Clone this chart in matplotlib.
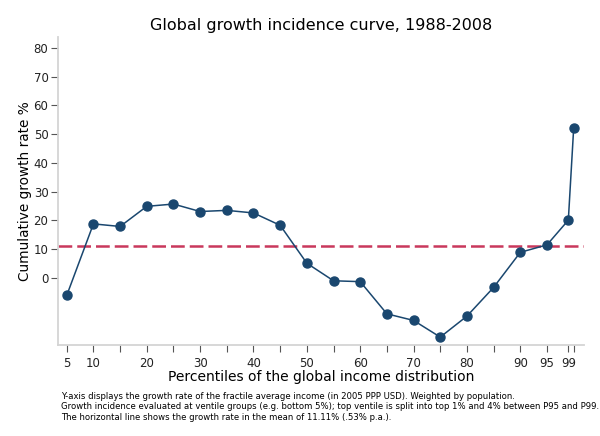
import matplotlib
matplotlib.use("Agg")
import matplotlib.pyplot as plt

# percentile groups (upper bound of each fractile) and cumulative growth, %
percentiles = [5, 10, 15, 20, 25, 30, 35, 40, 45, 50, 55, 60, 65, 70, 75,
               80, 85, 90, 95, 99, 100]
growth = [-6.1, 18.8, 17.9, 24.9, 25.7, 23.1, 23.5, 22.6, 18.3, 5.1, -1.0,
          -1.3, -12.5, -14.8, -20.6, -13.3, -3.3, 8.9, 11.5, 20.1, 52.0]
mean_growth = 11.11

x_ticks = [5, 10, 15, 20, 25, 30, 35, 40, 45, 50, 55, 60, 65, 70, 75, 80,
           85, 90, 95, 99, 100]
x_labels = {5: '5', 10: '10', 20: '20', 30: '30', 40: '40', 50: '50',
            60: '60', 70: '70', 80: '80', 90: '90', 95: '95', 99: '99'}
y_ticks = [0, 10, 20, 30, 40, 50, 60, 70, 80]

navy = '#1a476f'
red = '#c9385c'
gray = '#d4d4d4'

fig = plt.figure(figsize=(6, 4.36), dpi=100)
ax = fig.add_axes([0.097, 0.209, 0.876, 0.706])

ax.axhline(mean_growth, color=red, lw=1.8, ls=(0, (5.5, 2)), zorder=1)
ax.plot(percentiles, growth, color=navy, lw=1.1, marker='o', ms=6.5,
        zorder=2)

ax.set_xlim(3.4, 101.9)
ax.set_ylim(-23.3, 83.8)
ax.set_xticks(x_ticks)
ax.set_xticklabels([x_labels.get(t, '') for t in x_ticks])
ax.set_yticks(y_ticks)

for side in ['top', 'right']:
    ax.spines[side].set_visible(False)
for side in ['left', 'bottom']:
    ax.spines[side].set_color(gray)
    ax.spines[side].set_linewidth(1.3)
ax.tick_params(colors='#555555', labelcolor='#222222', labelsize=8.5,
               length=5, width=0.8)
ax.tick_params(axis='y', pad=2)

ax.set_title('Global growth incidence curve, 1988-2008', fontsize=11.5,
             pad=5)
ax.set_ylabel('Cumulative growth rate %', fontsize=9.8, labelpad=1)
ax.set_xlabel('Percentiles of the global income distribution', fontsize=10,
              labelpad=0)

note = ('Y-axis displays the growth rate of the fractile average income (in 2005 PPP USD). Weighted by population.\n'
        'Growth incidence evaluated at ventile groups (e.g. bottom 5%); top ventile is split into top 1% and 4% between P95 and P99.\n'
        'The horizontal line shows the growth rate in the mean of 11.11% (.53% p.a.).')
fig.text(0.102, 0.1, note, fontsize=6.1, va='top', ha='left',
         linespacing=1.15)

fig.savefig('out.png', dpi=100)
